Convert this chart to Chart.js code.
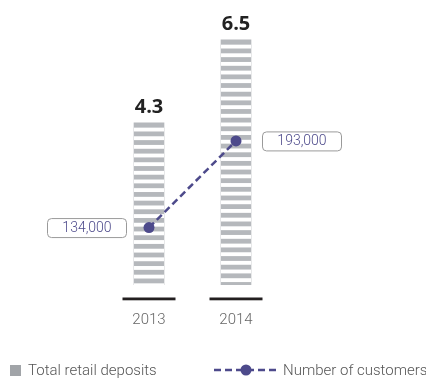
<!DOCTYPE html>
<html>
<head>
<meta charset="utf-8">
<script src="https://cdn.jsdelivr.net/npm/chart.js@4"></script>
<style>
  html, body { margin: 0; padding: 0; background: #fff; }
  #wrap { position: relative; width: 426px; height: 380px; }
  .legend {
    position: absolute; top: 361px; display: flex; align-items: center; white-space: nowrap;
    font-family: Roboto, sans-serif; font-weight: 300; font-size: 15px; color: #555;
  }
  .swatch { display: inline-block; width: 11px; height: 11px; background: #a1a4a8; margin-right: 7px; }
</style>
</head>
<body>
<div id="wrap">
  <canvas id="chart" width="426" height="380"></canvas>
  <div class="legend" style="left:10px"><span class="swatch"></span>Total retail deposits</div>
  <div class="legend" style="left:214px">
    <svg width="62" height="12" style="margin-right:7px">
      <line x1="0" y1="6" x2="62" y2="6" stroke="#4d4a8b" stroke-width="2.5" stroke-dasharray="7,4"/>
      <circle cx="32" cy="6" r="5.5" fill="#4d4a8b"/>
    </svg>Number of customers</div>
</div>
<script>
// Chart data
const years = ['2013', '2014'];
const retailDeposits = [4.3, 6.5];
const customers = [134000, 193000];

const PURPLE = '#4d4a8b';
const STRIPE = 4.8;
const PERIOD = 8.65;

// white gaps over bars to get the striped look (runs before the line is drawn)
const stripePlugin = {
    id: 'stripes',
    afterDatasetDraw(chart, args) {
        if (args.meta.type !== 'bar') return;
        const ctx = chart.ctx;
        ctx.save();
        ctx.fillStyle = '#fff';
        args.meta.data.forEach(bar => {
            const left = bar.x - bar.width / 2;
            for (let y = bar.y + STRIPE; y < bar.base; y += PERIOD) {
                ctx.fillRect(left, y, bar.width, PERIOD - STRIPE);
            }
        });
        ctx.restore();
    }
};

// value labels, callout boxes and base lines
const labelPlugin = {
    id: 'labels',
    afterDraw(chart) {
        const ctx = chart.ctx;
        const bars = chart.getDatasetMeta(1).data;
        const points = chart.getDatasetMeta(0).data;
        ctx.save();

        // dark base line under each bar
        ctx.fillStyle = '#231f20';
        bars.forEach(bar => {
            ctx.fillRect(bar.x - 26.5, chart.chartArea.bottom + 12.5, 53, 2.8);
        });

        // bar values
        ctx.fillStyle = '#222';
        ctx.font = '700 20px "Open Sans", sans-serif';
        ctx.textAlign = 'center';
        ctx.textBaseline = 'alphabetic';
        bars.forEach((bar, i) => {
            ctx.fillText(retailDeposits[i].toFixed(1), bar.x, bar.y - 10);
        });

        // customer callouts
        ctx.font = '300 14px Roboto, sans-serif';
        ctx.textBaseline = 'middle';
        points.forEach((pt, i) => {
            const w = 79, h = 19;
            const half = bars[i].width / 2;
            const left = i === 0 ? pt.x - half - 8 - w : pt.x + half + 11;
            const top = pt.y - h / 2;
            ctx.beginPath();
            ctx.roundRect(left + 0.5, top + 0.5, w, h, 4);
            ctx.fillStyle = '#fff';
            ctx.fill();
            ctx.strokeStyle = '#9a9a9a';
            ctx.lineWidth = 1;
            ctx.stroke();
            ctx.fillStyle = PURPLE;
            ctx.fillText(customers[i].toLocaleString('en-US'), left + w / 2 + 0.5, pt.y + 1);
        });
        ctx.restore();
    }
};

new Chart(document.getElementById('chart'), {
    type: 'bar',
    data: {
        labels: years,
        datasets: [
            {
                type: 'line',
                label: 'Number of customers',
                data: customers,
                yAxisID: 'y1',
                order: 0,
                borderColor: PURPLE,
                borderWidth: 2.5,
                borderDash: [7, 4],
                pointRadius: 5.5,
                pointBorderWidth: 0,
                pointBackgroundColor: PURPLE,
            },
            {
                label: 'Total retail deposits',
                data: retailDeposits,
                yAxisID: 'y',
                order: 1,
                backgroundColor: '#b5b8bc',
                barThickness: 30,
            },
        ],
    },
    options: {
        responsive: false,
        animation: false,
        layout: { padding: { left: 105.5, right: 146.5, top: 21, bottom: 25 } },
        plugins: {
            legend: { display: false },
            tooltip: { enabled: false },
        },
        scales: {
            x: {
                grid: { display: false, drawTicks: false },
                border: { display: false },
                ticks: {
                    color: '#666',
                    padding: 26,
                    font: { family: 'Roboto', size: 15, weight: 300 },
                },
            },
            y: { display: false, min: 0, max: 7 },
            y1: { display: false, min: 94900, max: 274650 },
        },
    },
    plugins: [stripePlugin, labelPlugin],
});
</script>
</body>
</html>
